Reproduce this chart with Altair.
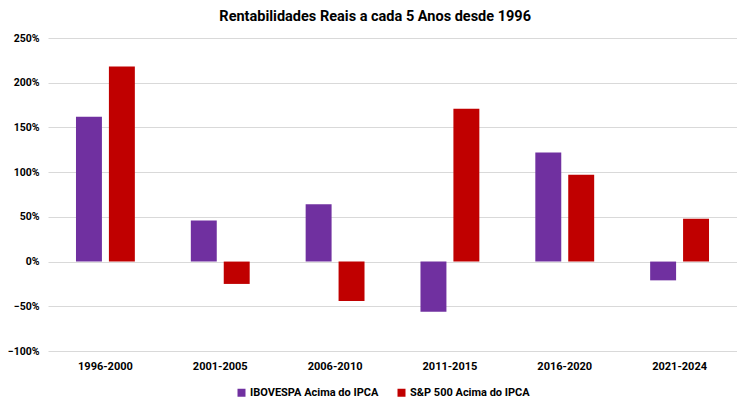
import altair as alt
import pandas as pd

periods = ["1996-2000", "2001-2005", "2006-2010", "2011-2015", "2016-2020", "2021-2024"]
series = ["IBOVESPA Acima do IPCA", "S&P 500 Acima do IPCA"]
ibov = [1.62, 0.46, 0.64, -0.56, 1.22, -0.21]
sp500 = [2.18, -0.25, -0.44, 1.71, 0.97, 0.48]
colors = ["#7030A0", "#C00000"]

rows = []
for p, a, b in zip(periods, ibov, sp500):
    rows.append({"period": p, "serie": series[0], "valor": a})
    rows.append({"period": p, "serie": series[1], "valor": b})
df = pd.DataFrame(rows)

font = "Roboto, sans-serif"

chart = alt.Chart(df).mark_bar().encode(
    x=alt.X("period:N", sort=periods, title=None,
            scale=alt.Scale(paddingInner=0, paddingOuter=0),
            axis=alt.Axis(labelAngle=0, domain=False, ticks=False, labelPadding=9,
                          labelFontSize=11, labelFontWeight="bold", labelColor="#000",
                          labelFont=font)),
    xOffset=alt.XOffset("serie:N", sort=series,
                        scale=alt.Scale(paddingInner=0.212, paddingOuter=0.85)),
    y=alt.Y("valor:Q", title=None,
            scale=alt.Scale(domain=[-1, 2.5], nice=False),
            axis=alt.Axis(values=[-1, -0.5, 0, 0.5, 1, 1.5, 2, 2.5], format=".0%",
                          domain=False, ticks=False, labelPadding=9,
                          labelFontSize=10.5, labelFontWeight="bold", labelColor="#000",
                          labelFont=font, gridColor="#d9d9d9")),
    color=alt.Color("serie:N", sort=series,
                    scale=alt.Scale(domain=series, range=colors),
                    legend=alt.Legend(orient="none", legendX=188, legendY=349,
                                      direction="horizontal", title=None,
                                      symbolType="square", symbolSize=64,
                                      symbolStrokeWidth=0, labelOffset=3,
                                      labelFontSize=11, labelFontWeight="bold",
                                      labelColor="#000", labelFont=font,
                                      columnPadding=17)),
).properties(
    width=689, height=313,
    title=alt.TitleParams("Rentabilidades Reais a cada 5 Anos desde 1996",
                          fontSize=14.5, fontWeight="bold", font=font, color="#000",
                          anchor="middle", offset=9, frame="bounds", dx=3),
    autosize=alt.AutoSizeParams(type="none"),
    padding={"left": 40, "top": 30, "right": 0, "bottom": 47},
).configure_view(stroke=None)

chart.save("out.html", embed_options={"renderer": "svg", "actions": False})
